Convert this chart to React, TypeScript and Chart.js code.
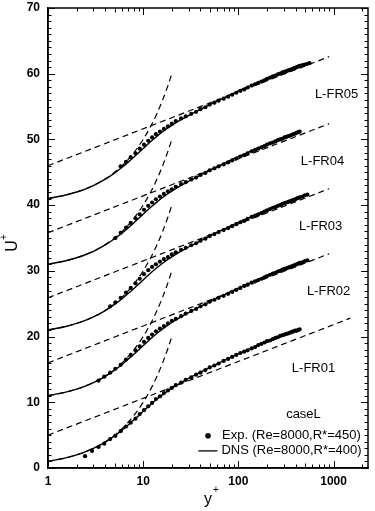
import React, { useEffect, useRef } from "react";
import { Chart, registerables } from "chart.js";

Chart.register(...registerables);

// ---------- data ----------
const OFFSETS = [0, 10, 20, 30, 40];
const X_MIN = 1;
const X_MAX = 2300;
const Y_MIN = 0;
const Y_MAX = 70;
const X_TICKS = [1, 10, 100, 1000];
const Y_TICK_STEP = 10;
const Y_MINOR_STEP = 1;
const X_MINOR_MULT = [1, 2, 3, 4, 5, 6, 7, 8, 9];

// DNS (Re=8000, R*=400) base profile
const DNS_Y = [1, 1.5, 2, 2.5, 3, 4, 5, 6, 7, 8, 9, 10, 12, 14, 16, 18, 20, 25, 30, 40, 50, 60, 80, 100, 150, 200, 250, 300, 350, 400];
const DNS_U = [1.0, 1.5, 2.0, 2.49, 2.98, 3.95, 4.88, 5.76, 6.58, 7.33, 8.01, 8.62, 9.67, 10.5, 11.16, 11.7, 12.14, 13.0, 13.63, 14.58, 15.29, 15.86, 16.72, 17.37, 18.52, 19.3, 19.9, 20.35, 20.65, 20.8];

// viscous sublayer line U+ = y+
const LIN_Y = [1, 1.5, 2, 3, 4, 5, 6, 7, 8, 10, 12, 14, 16, 18, 20];
const LIN_U = [1, 1.5, 2, 3, 4, 5, 6, 7, 8, 10, 12, 14, 16, 18, 20];

// log-law dashed lines (start at y+=1, end at LOG_END_Y)
const LOG_START_Y = 1;
const LOG_END_Y = [1500, 900, 900, 900, 900];
const LOG_START_U = [5.0, 6.0, 5.9, 5.8, 6.0];
const LOG_END_U = [22.8, 22.6, 22.5, 22.4, 22.6];

// experimental (Re=8000, R*=450)
const EXP_Y = [
  2.45, 2.9, 3.4, 3.9, 4.5, 5.1, 5.8, 6.6, 7.4, 8.3,
  9.2, 10.2, 11.3, 12.4, 13.6, 15, 16.5, 18.2, 20, 22,
  25, 28, 32, 36, 40, 45, 50, 56, 62, 70,
  78, 86, 95, 105, 115, 125, 138, 150, 162, 175,
  188, 200, 215, 230, 245, 260, 275, 290, 305, 320,
  335, 350, 365, 380, 395, 410, 425, 440, 470, 500,
  530, 560, 600,
];
const EXP_U_FR01 = [
  1.8, 2.6, 3.2, 3.7, 4.4, 4.9, 5.6, 6.3, 6.9, 7.5,
  8.2, 8.8, 9.4, 9.9, 10.5, 10.9, 11.4, 11.8, 12.2, 12.6,
  13.0, 13.4, 13.8, 14.2, 14.5, 14.9, 15.3, 15.6, 15.9, 16.3,
  16.6, 16.9, 17.2, 17.5, 17.7, 17.9, 18.2, 18.4, 18.7, 18.9,
  19.1, 19.3, 19.4, 19.6, 19.8, 19.9, 20.1, 20.2, 20.3, 20.4,
  20.5, 20.6, 20.7, 20.8, 20.9, 20.9, 21.0, 21.1, null, null,
  null, null, null,
];
const EXP_U_FR02 = [
  null, null, 3.3, 3.9, 4.5, 5.1, 5.7, 6.5, 7.2, 7.9,
  8.5, 9.2, 9.8, 10.3, 10.8, 11.2, 11.6, 12.0, 12.4, 12.7,
  13.1, 13.5, 13.9, 14.2, 14.6, 14.9, 15.3, 15.6, 15.9, 16.2,
  16.5, 16.8, 17.1, 17.4, 17.7, 17.9, 18.2, 18.4, 18.6, 18.8,
  19.0, 19.2, 19.4, 19.6, 19.7, 19.9, 20.0, 20.2, 20.3, 20.4,
  20.5, 20.6, 20.7, 20.8, 20.9, 21.0, 21.1, 21.2, 21.3, 21.5,
  21.6, null, null,
];
const EXP_U_FR03 = [
  null, null, null, null, 4.6, 5.2, 5.9, 6.7, 7.4, 8.1,
  8.8, 9.5, 10.1, 10.6, 11.0, 11.4, 11.8, 12.1, 12.5, 12.8,
  13.2, 13.5, 13.9, 14.2, 14.6, 14.9, 15.3, 15.6, 15.9, 16.2,
  16.5, 16.8, 17.1, 17.4, 17.6, 17.9, 18.2, 18.4, 18.6, 18.8,
  19.0, 19.2, 19.4, 19.6, 19.7, 19.9, 20.0, 20.2, 20.3, 20.4,
  20.5, 20.6, 20.7, 20.8, 20.9, 21.0, 21.1, 21.2, 21.3, 21.5,
  21.6, null, null,
];
const EXP_U_FR04 = [
  null, null, null, null, null, 5.0, 5.8, 6.6, 7.3, 8.0,
  8.6, 9.3, 9.9, 10.4, 10.9, 11.3, 11.7, 12.1, 12.4, 12.8,
  13.2, 13.5, 13.9, 14.2, 14.6, 14.9, 15.3, 15.6, 15.9, 16.2,
  16.5, 16.8, 17.1, 17.4, 17.6, 17.9, 18.2, 18.4, 18.6, 18.8,
  19.0, 19.2, 19.4, 19.5, 19.7, 19.9, 20.0, 20.1, 20.3, 20.4,
  20.5, 20.6, 20.7, 20.8, 20.9, 21.0, 21.1, 21.2, null, null,
  null, null, null,
];
const EXP_U_FR05 = [
  null, null, null, null, null, null, 5.9, 6.6, 7.3, 7.9,
  8.6, 9.2, 9.8, 10.3, 10.8, 11.2, 11.6, 12.0, 12.4, 12.8,
  13.2, 13.5, 13.9, 14.2, 14.6, 14.9, 15.3, 15.6, 15.9, 16.2,
  16.5, 16.8, 17.1, 17.4, 17.6, 17.9, 18.2, 18.4, 18.6, 18.8,
  19.0, 19.2, 19.4, 19.6, 19.7, 19.9, 20.0, 20.2, 20.3, 20.4,
  20.5, 20.6, 20.7, 20.8, 20.9, 21.0, 21.1, 21.2, 21.3, 21.4,
  21.5, 21.6, null,
];
const EXP_U = [EXP_U_FR01, EXP_U_FR02, EXP_U_FR03, EXP_U_FR04, EXP_U_FR05];

// text annotations (anchored in data coordinates: y+, U+)
const CASE_LABELS = ["L-FR01", "L-FR02", "L-FR03", "L-FR04", "L-FR05"];
const CASE_LABEL_X = [616, 886, 730, 766, 1075];
const CASE_LABEL_U = [15.2, 26.8, 36.7, 46.6, 56.9];
const CASE_TITLE = "caseL";
const CASE_TITLE_POS = [483, 8.1];
const LEGEND_EXP = "Exp. (Re=8000,R*=450)";
const LEGEND_DNS = "DNS (Re=8000,R*=400)";
const LEGEND_EXP_POS = [48, 4.9];
const LEGEND_DNS_POS = [38, 2.6];
const X_TITLE = "y";
const Y_TITLE = "U";

const FONT = '"Liberation Sans", Arial, sans-serif';

const overlay = {
  id: "overlay",
  afterDatasetsDraw(chart: any) {
    const { ctx, chartArea, scales } = chart;
    const { left, right, top, bottom } = chartArea;
    const xs = scales.x;
    const ys = scales.y;
    ctx.save();
    ctx.strokeStyle = "#000";
    ctx.fillStyle = "#000";
    const seg = (x1: number, y1: number, x2: number, y2: number) => {
      ctx.beginPath();
      ctx.moveTo(x1, y1);
      ctx.lineTo(x2, y2);
      ctx.stroke();
    };
    // frame
    ctx.lineWidth = 1.5;
    ctx.strokeRect(left, top, right - left, bottom - top);
    // y ticks (inward, both sides)
    ctx.lineWidth = 1;
    for (let v = Y_MIN; v <= Y_MAX; v += Y_MINOR_STEP) {
      const py = Math.round(ys.getPixelForValue(v)) + 0.5;
      const len = v % Y_TICK_STEP === 0 ? 7 : 3.5;
      seg(left, py, left + len, py);
      seg(right, py, right - len, py);
    }
    // x ticks (inward, top and bottom)
    for (const d of X_TICKS) {
      for (const m of X_MINOR_MULT) {
        const v = d * m;
        if (v > X_MAX) break;
        const px = Math.round(xs.getPixelForValue(v)) + 0.5;
        const len = m === 1 ? 7 : m === 5 ? 4.5 : 3.5;
        seg(px, bottom, px, bottom - len);
        seg(px, top, px, top + len);
      }
    }
    // case labels
    ctx.font = `13px ${FONT}`;
    ctx.textAlign = "center";
    ctx.textBaseline = "middle";
    CASE_LABELS.forEach((t, i) => {
      ctx.fillText(t, xs.getPixelForValue(CASE_LABEL_X[i]), ys.getPixelForValue(CASE_LABEL_U[i]));
    });
    ctx.fillText(CASE_TITLE, xs.getPixelForValue(CASE_TITLE_POS[0]), ys.getPixelForValue(CASE_TITLE_POS[1]));
    // legend
    ctx.textAlign = "left";
    const ex = xs.getPixelForValue(LEGEND_EXP_POS[0]);
    const ey = ys.getPixelForValue(LEGEND_EXP_POS[1]);
    ctx.beginPath();
    ctx.arc(ex, ey, 2.8, 0, Math.PI * 2);
    ctx.fill();
    ctx.fillText(LEGEND_EXP, ex + 14, ey);
    const dx = xs.getPixelForValue(LEGEND_DNS_POS[0]);
    const dy = ys.getPixelForValue(LEGEND_DNS_POS[1]);
    ctx.lineWidth = 1.3;
    seg(dx, dy, dx + 19, dy);
    ctx.fillText(LEGEND_DNS, dx + 23, dy);
    // axis titles
    const cx = (left + right) / 2;
    ctx.font = `16px ${FONT}`;
    ctx.textAlign = "center";
    ctx.textBaseline = "alphabetic";
    ctx.fillText(X_TITLE, cx, 504);
    ctx.font = `10px ${FONT}`;
    ctx.fillText("+", cx + 8, 493);
    ctx.translate(17, (top + bottom) / 2 + 8);
    ctx.rotate(-Math.PI / 2);
    ctx.font = `16px ${FONT}`;
    ctx.fillText(Y_TITLE, 0, 0);
    ctx.font = `10px ${FONT}`;
    ctx.fillText("+", 9, -10);
    ctx.restore();
  },
};

export default function App() {
  const ref = useRef<HTMLCanvasElement | null>(null);
  useEffect(() => {
    document.body.style.margin = "0";
    const datasets: any[] = [];
    OFFSETS.forEach((off, i) => {
      datasets.push({
        label: `dns${i}`,
        data: DNS_Y.map((yv, k) => ({ x: yv, y: DNS_U[k] + off })),
        showLine: true,
        borderColor: "#000",
        borderWidth: 1.4,
        pointRadius: 0,
        cubicInterpolationMode: "monotone",
      });
      datasets.push({
        label: `lin${i}`,
        data: LIN_Y.map((yv, k) => ({ x: yv, y: LIN_U[k] + off })),
        showLine: true,
        borderColor: "#000",
        borderWidth: 1.2,
        borderDash: [6, 4],
        pointRadius: 0,
        cubicInterpolationMode: "monotone",
      });
      datasets.push({
        label: `log${i}`,
        data: [
          { x: LOG_START_Y, y: LOG_START_U[i] + off },
          { x: LOG_END_Y[i], y: LOG_END_U[i] + off },
        ],
        showLine: true,
        borderColor: "#000",
        borderWidth: 1.2,
        borderDash: [6, 4],
        pointRadius: 0,
      });
    });
    OFFSETS.forEach((off, i) => {
      datasets.push({
        label: `exp${i}`,
        data: EXP_Y.map((yv, k) => ({ x: yv, y: EXP_U[i][k] === null ? null : (EXP_U[i][k] as number) + off })),
        showLine: false,
        pointRadius: 2.1,
        pointBackgroundColor: "#000",
        pointBorderWidth: 0,
        borderColor: "#000",
      });
    });
    const chart = new Chart(ref.current as HTMLCanvasElement, {
      type: "scatter",
      data: { datasets },
      plugins: [overlay],
      options: {
        animation: false,
        responsive: false,
        devicePixelRatio: 1,
        layout: { padding: { left: 0, right: 7, top: 8, bottom: 0 } },
        plugins: { legend: { display: false }, tooltip: { enabled: false } },
        scales: {
          x: {
            type: "logarithmic",
            min: X_MIN,
            max: X_MAX,
            grid: { display: false, drawTicks: false },
            border: { display: true, color: "#000", width: 1.5 },
            afterBuildTicks: (scale: any) => {
              scale.ticks = X_TICKS.map((v) => ({ value: v, major: true }));
            },
            afterFit: (scale: any) => {
              scale.height = 43;
              scale.paddingLeft = 0;
              scale.paddingRight = 0;
            },
            ticks: {
              autoSkip: false,
              maxRotation: 0,
              padding: 6,
              color: "#000",
              font: { family: FONT, size: 12, weight: "bold" },
              callback: (v: any) => String(v),
            },
          },
          y: {
            type: "linear",
            min: Y_MIN,
            max: Y_MAX,
            grid: { display: false, drawTicks: false },
            border: { display: true, color: "#000", width: 1.5 },
            afterFit: (scale: any) => {
              scale.width = 48;
              scale.paddingTop = 0;
              scale.paddingBottom = 0;
            },
            ticks: {
              stepSize: Y_TICK_STEP,
              padding: 8,
              color: "#000",
              font: { family: FONT, size: 12, weight: "bold" },
            },
          },
        },
      },
    });
    return () => chart.destroy();
  }, []);
  return <canvas ref={ref} width={375} height={511} style={{ display: "block" }} />;
}
